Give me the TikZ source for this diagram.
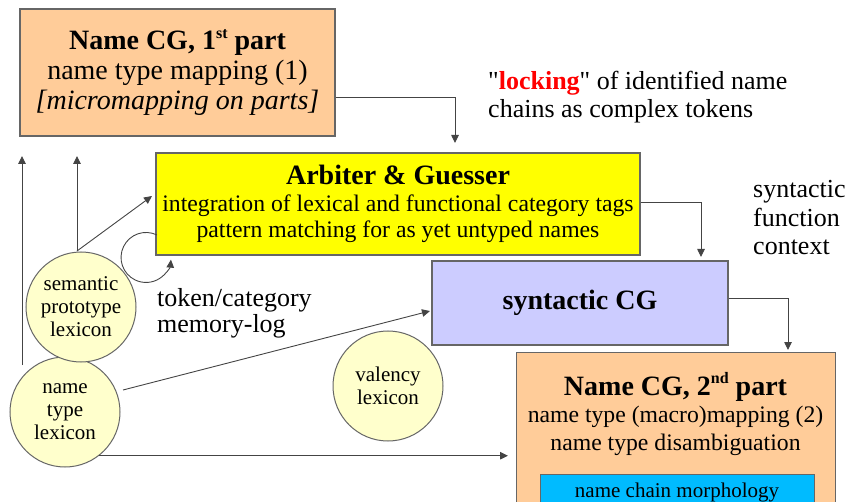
\documentclass[tikz,border=0pt]{standalone}
\usepackage{fontspec}
\setmainfont{Liberation Serif}[Ligatures=TeXOff]
\usetikzlibrary{arrows.meta}
\definecolor{peach}{HTML}{FFCC99}
\definecolor{arbiter}{HTML}{FFFF00}
\definecolor{lavender}{HTML}{CCCCFF}
\definecolor{lexfill}{HTML}{FFFFCC}
\definecolor{morphfill}{HTML}{00BBFF}
\definecolor{boxline}{HTML}{666666}
\definecolor{wire}{HTML}{444444}
\newcommand{\fs}[2]{\fontsize{#1}{#2}\selectfont}
\newcommand{\ordsup}[1]{\raisebox{0.42em}{\fs{16}{16}#1}}
\begin{document}
\begin{tikzpicture}[x=1pt,y=-1pt,
  module/.style={draw=boxline, line width=1.1pt, inner sep=0pt, align=center},
  lexicon/.style={circle, draw=boxline, line width=1pt, fill=lexfill,
    minimum size=110pt, inner sep=0pt, align=center, font=\fs{21}{23}},
  note/.style={inner sep=0pt, align=left, font=\fs{26}{28.5}},
  arr/.style={draw=wire, line width=0.9pt, -{Triangle[length=8pt,width=7.5pt]}}]
\useasboundingbox (0,0) rectangle (848,502);
\clip (0,0) rectangle (848,502);

% processing modules
\node[module, fill=peach, minimum width=315pt, minimum height=127pt, font=\fs{28}{30}] (cg1) at (177.5,72.5)
  {\bfseries Name CG, 1\ordsup{st} part\\
   name type mapping (1)\\
   \itshape [micromapping on parts]};
\node[module, fill=arbiter, minimum width=484pt, minimum height=102pt, font=\fs{23.7}{26.5}] (ag) at (398,204)
  {{\fs{28}{29}\bfseries Arbiter \& Guesser}\\
   integration of lexical and functional category tags\\
   pattern matching for as yet untyped names};
\node[module, fill=lavender, minimum width=296pt, minimum height=84pt, font=\fs{28}{30}\bfseries] (scg) at (580,303)
  {syntactic CG};
\node[module, fill=peach, minimum width=319pt, minimum height=200pt, anchor=north west] (cg2) at (516,352) {};
\node[inner sep=0pt, align=center, anchor=base, font=\fs{23.7}{27.5}] (cg2txt) at (675.5,450)
  {{\fs{28}{29}\bfseries Name CG, 2\ordsup{nd} part}\\
   name type (macro)mapping (2)\\
   name type disambiguation};
\node[module, fill=morphfill, minimum width=274pt, minimum height=60pt, anchor=north west] (morph) at (540,474) {};
\node[inner sep=0pt, anchor=base, font=\fs{21}{23}] (morphtxt) at (677,497) {name chain morphology};

% lexica
\node[lexicon] (nt) at (65,412) {name\\type\\lexicon};
\node[lexicon] (sp) at (81,307) {semantic\\prototype\\lexicon};
\node[lexicon] (val) at (388,386) {valency\\lexicon};

% free-standing annotations
\node[note, anchor=base west] (lock) at (488,118)
  {"\textcolor{red}{\bfseries locking}" of identified name\\chains as complex tokens};
\node[note, anchor=base west] (synctx) at (753,255) {syntactic\\function\\context};
\node[note, anchor=base west, font=\fs{26}{26.5}] (memlog) at (157,333) {token/category\\memory-log};

% loose ends of the connectors
\coordinate (lockend) at (455,143);
\coordinate (agend) at (701,257);
\coordinate (scgend) at (788,350);
\coordinate (ntfoot) at (22,365);
\coordinate (nttop) at (22,156);
\coordinate (sptop) at (77,156);
\coordinate (spfoot) at (77,251);
\coordinate (agin) at (152,196);
\coordinate (loopstart) at (157,235);
\coordinate (ntout) at (123,390);
\coordinate (scgin) at (430,311);
\coordinate (cg2in) at (508,457);

% connectors
\draw[arr] ([yshift=-24.5pt]cg1.east) -| (lockend);
\draw[arr] ([yshift=2pt]ag.east) -| (agend);
\draw[arr] ([yshift=5pt]scg.east) -| (scgend);
\draw[arr] (ntfoot) -- (nttop);
\draw[arr] (spfoot) -- (sptop);
\draw[arr] (spfoot) -- (agin);
\draw[arr] (loopstart) arc[start angle=64, end angle=355, radius=25pt];
\draw[arr] (ntout) -- (scgin);
\draw[arr] (nt.-52) -- (nt.-52 -| cg2in);
\end{tikzpicture}
\end{document}
